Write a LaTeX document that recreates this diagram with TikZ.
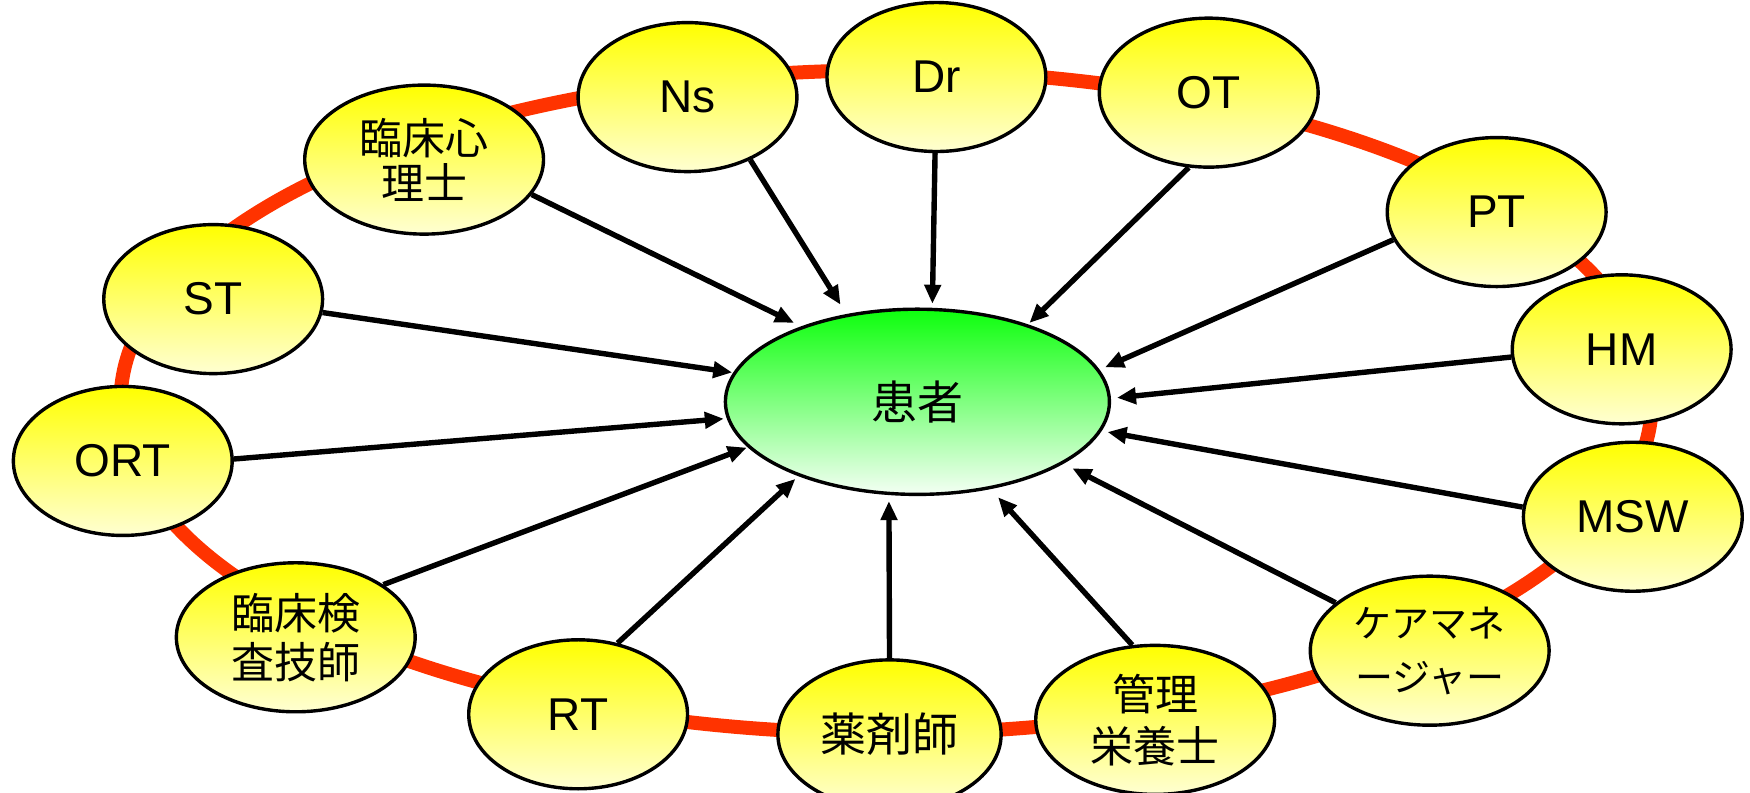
\documentclass[tikz,border=0pt]{standalone}
\usepackage{fontspec}
\setmainfont{Liberation Sans}
\newfontfamily\jp{Noto Sans CJK JP}
\usetikzlibrary{arrows.meta,shapes.geometric}
\definecolor{ringred}{HTML}{FF3300}
\definecolor{yelbot}{HTML}{FFFFD2}
\definecolor{grntop}{HTML}{0DFF0D}
\definecolor{grnbot}{HTML}{F4FFF4}
\begin{document}
\begin{tikzpicture}[x=0.558pt,y=-0.558pt,
  staff/.style={ellipse, draw=black, line width=1.7pt, top color=yellow, bottom color=yelbot,
    inner sep=0pt, minimum width=109.4pt, minimum height=74.5pt, align=center,
    font=\fontsize{23}{24}\selectfont},
  staffjp/.style={staff, font=\jp\fontsize{21.5}{24}\selectfont},
  wide/.style={minimum width=119.4pt},
  patient/.style={ellipse, draw=black, line width=1.7pt, top color=grntop, bottom color=grnbot,
    inner sep=0pt, minimum width=192pt, minimum height=92.6pt, font=\jp\fontsize{23}{24}\selectfont},
  arr/.style={-{Triangle[length=9.5pt,width=8pt]}, line width=2.7pt}]
\useasboundingbox (0,0) rectangle (1568,710);
% ring
\draw[ringred, line width=7pt] (794,360) ellipse [x radius=686, y radius=297];
% nodes
\node[staff] (dr) at (839,69) {Dr};
\node[staff] (ns) at (616,87) {Ns};
\node[staff] (ot) at (1083,83) {OT};
\node[staffjp,wide,font=\jp\fontsize{21.5}{22.5}\selectfont] (cp) at (380,143) {臨床心\\理士};
\node[staff] (pt) at (1341,190) {PT};
\node[staff] (st) at (191,268) {ST};
\node[staff] (hm) at (1453,313) {HM};
\node[staff] (ort) at (110,413) {ORT};
\node[staff] (msw) at (1463,463) {MSW};
\node[staffjp,wide,font=\jp\fontsize{21.5}{24.5}\selectfont] (lab) at (265,571) {臨床検\\査技師};
\node[staffjp,wide,font=\jp\fontsize{19}{27}\selectfont] (cm) at (1281,583) {ケアマネ\\ージャー};
\node[staff] (rt) at (518,640) {RT};
\node[staff,wide,minimum width=111.6pt,font=\jp\fontsize{23}{24}\selectfont] (ph) at (797,658) {薬剤師};
\node[staffjp,wide,font=\jp\fontsize{21.5}{26}\selectfont] (nut) at (1035,645) {管理\\栄養士};
\node[patient] (pat) at (822,360) {患者};
% arrows
\draw[arr, shorten >=4pt] (cp.-18) -- (pat.147);
\draw[arr, shorten >=5.5pt] (ns.-45) -- (pat.129);
\draw[arr, shorten >=2pt] (dr.-91) -- (pat.81);
\draw[arr, shorten >=1pt] (ot.-105) -- (pat.35);
\draw[arr, shorten >=3pt] (pt.195) -- (pat.10);
\draw[arr, shorten >=3pt] (hm.184) -- (pat.1);
\draw[arr, shorten >=3pt] (msw.175) -- (pat.-9);
\draw[arr, shorten >=5pt] (cm.153) -- (pat.-23);
\draw[arr, shorten >=5.5pt] (nut.107) -- (pat.-50);
\draw[arr, shorten >=3pt] (ph.90) -- (pat.-107);
\draw[arr, shorten >=2pt] (rt.61) -- (pat.212);
\draw[arr, shorten >=0.5pt] (lab.31) -- (pat.195);
\draw[arr, shorten >=1.5pt] (ort.1) -- (pat.185);
\draw[arr, shorten >=0.5pt] (st.-7) -- (pat.171);
\end{tikzpicture}
\end{document}
